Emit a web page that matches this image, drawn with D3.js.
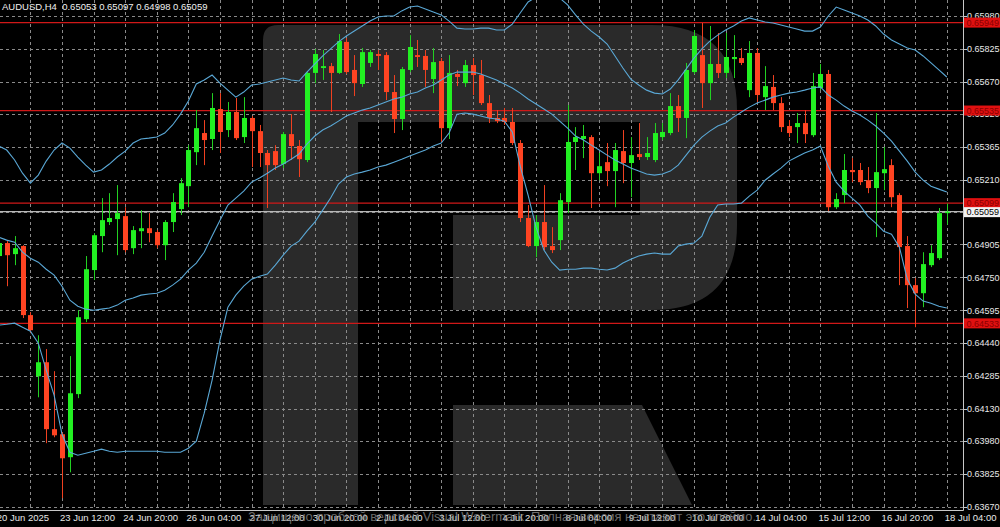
<!DOCTYPE html>
<html><head><meta charset="utf-8">
<script src="https://cdn.jsdelivr.net/npm/d3@7"></script>
<style>html,body{margin:0;padding:0;background:#000;overflow:hidden}</style>
</head><body><svg id="c" width="1000" height="527"></svg>
<script>
const chartTitle = "AUDUSD,H4  0.65053 0.65097 0.64998 0.65059";
const opens = [
0.64850,0.64911,0.64859,0.64897,0.64572,0.64284,0.64350,0.64035,0.64011,0.63903,
0.64200,0.64553,0.64784,0.64944,0.65010,0.65024,0.65038,0.64887,0.64967,0.64981,
0.64963,0.64901,0.65010,0.65071,0.65179,0.65339,0.65429,0.65401,0.65542,0.65443,
0.65528,0.65410,0.65500,0.65438,0.65335,0.65344,0.65283,0.65424,0.65368,0.65302,
0.65712,0.65735,0.65744,0.65712,0.65858,0.65726,0.65660,0.65759,0.65801,0.65796,
0.65622,0.65495,0.65726,0.65796,0.65792,0.65683,0.65768,0.65452,0.65707,0.65664,
0.65749,0.65702,0.65570,0.65500,0.65500,0.65481,0.65382,0.65029,0.64897,0.65010,
0.64897,0.64925,0.65104,0.65387,0.65401,0.65410,0.65240,0.65292,0.65250,0.65344,
0.65288,0.65330,0.65316,0.65302,0.65410,0.65429,0.65556,0.65500,0.65716,0.65796,
0.65664,0.65754,0.65712,0.65777,0.65782,0.65631,0.65806,0.65598,0.65646,0.65570,
0.65462,0.65457,0.65476,0.65419,0.65641,0.65707,0.65080,0.65137,0.65255,0.65255,
0.65207,0.65170,0.65240,0.65278,0.65137,0.64897,0.64713,0.64675,0.64807,0.64840,
0.65053];
const highs = [
0.64925,0.64920,0.64944,0.64901,0.64586,0.64477,0.64412,0.64308,0.64021,0.64379,
0.64595,0.64850,0.64958,0.65123,0.65146,0.65184,0.65080,0.64991,0.65066,0.65052,
0.64972,0.65019,0.65146,0.65217,0.65372,0.65537,0.65490,0.65617,0.65617,0.65575,
0.65594,0.65598,0.65509,0.65467,0.65349,0.65372,0.65434,0.65518,0.65396,0.65721,
0.65825,0.65820,0.65759,0.65895,0.65876,0.65796,0.65829,0.65820,0.65820,0.65810,
0.65702,0.65740,0.65890,0.65867,0.65820,0.65829,0.65782,0.65796,0.65726,0.65773,
0.65782,0.65773,0.65608,0.65537,0.65547,0.65547,0.65396,0.65090,0.65043,0.65184,
0.64986,0.65146,0.65561,0.65457,0.65467,0.65419,0.65335,0.65382,0.65382,0.65443,
0.65410,0.65476,0.65410,0.65476,0.65476,0.65617,0.65608,0.65759,0.65914,0.65947,
0.65933,0.65900,0.65900,0.65890,0.65829,0.65862,0.65829,0.65744,0.65702,0.65598,
0.65490,0.65523,0.65537,0.65712,0.65754,0.65726,0.65146,0.65330,0.65311,0.65288,
0.65269,0.65523,0.65363,0.65306,0.65146,0.64944,0.64746,0.64868,0.64901,0.65076,
0.65097];
const lows = [
0.64840,0.64708,0.64807,0.64558,0.64487,0.64185,0.63969,0.63997,0.63710,0.63832,
0.64181,0.64539,0.64737,0.64868,0.64996,0.64854,0.64868,0.64859,0.64887,0.64915,
0.64887,0.64831,0.64963,0.65043,0.65080,0.65278,0.65278,0.65349,0.65335,0.65410,
0.65396,0.65382,0.65269,0.65269,0.65076,0.65255,0.65264,0.65302,0.65222,0.65292,
0.65664,0.65679,0.65528,0.65707,0.65707,0.65603,0.65646,0.65740,0.65726,0.65584,
0.65429,0.65443,0.65716,0.65740,0.65646,0.65617,0.65387,0.65401,0.65650,0.65646,
0.65608,0.65561,0.65476,0.65476,0.65467,0.65372,0.65010,0.64892,0.64845,0.64878,
0.64864,0.64878,0.65052,0.65255,0.65311,0.65076,0.65207,0.65179,0.65080,0.65193,
0.65127,0.65302,0.65302,0.65292,0.65396,0.65419,0.65434,0.65405,0.65707,0.65547,
0.65584,0.65688,0.65688,0.65688,0.65749,0.65598,0.65575,0.65537,0.65537,0.65434,
0.65410,0.65382,0.65382,0.65410,0.65631,0.65062,0.65071,0.65099,0.65198,0.65184,
0.65146,0.64939,0.65160,0.65080,0.64713,0.64605,0.64515,0.64609,0.64798,0.64831,
0.64998];
const closes = [
0.64911,0.64854,0.64887,0.64572,0.64501,0.64350,0.64035,0.64006,0.63898,0.64204,
0.64562,0.64788,0.64948,0.65019,0.65029,0.65052,0.64878,0.64972,0.64981,0.64958,
0.64901,0.65010,0.65104,0.65193,0.65349,0.65452,0.65396,0.65547,0.65434,0.65528,
0.65405,0.65500,0.65438,0.65335,0.65278,0.65278,0.65424,0.65368,0.65306,0.65712,
0.65801,0.65744,0.65712,0.65862,0.65716,0.65664,0.65810,0.65810,0.65792,0.65622,
0.65495,0.65730,0.65834,0.65787,0.65726,0.65763,0.65452,0.65712,0.65693,0.65749,
0.65702,0.65570,0.65500,0.65485,0.65481,0.65382,0.65029,0.64897,0.65010,0.64892,
0.64878,0.65113,0.65387,0.65410,0.65415,0.65240,0.65273,0.65250,0.65349,0.65288,
0.65325,0.65316,0.65335,0.65429,0.65434,0.65556,0.65500,0.65726,0.65886,0.65664,
0.65754,0.65712,0.65787,0.65787,0.65759,0.65806,0.65608,0.65650,0.65570,0.65457,
0.65429,0.65476,0.65424,0.65650,0.65707,0.65080,0.65118,0.65255,0.65245,0.65198,
0.65170,0.65245,0.65259,0.65127,0.64892,0.64713,0.64675,0.64812,0.64864,0.65052,
0.65059];
const bbUpper = [
0.65368,0.65349,0.65302,0.65240,0.65193,0.65231,0.65297,0.65349,0.65382,0.65358,
0.65316,0.65278,0.65245,0.65255,0.65283,0.65316,0.65344,0.65382,0.65401,0.65405,
0.65410,0.65429,0.65467,0.65518,0.65580,0.65660,0.65679,0.65702,0.65664,0.65631,
0.65598,0.65622,0.65655,0.65660,0.65669,0.65679,0.65688,0.65679,0.65674,0.65716,
0.65754,0.65792,0.65825,0.65858,0.65886,0.65909,0.65933,0.65956,0.65975,0.65980,
0.65980,0.66004,0.66022,0.66027,0.66013,0.65999,0.65985,0.65956,0.65923,0.65919,
0.65919,0.65923,0.65923,0.65914,0.65914,0.65942,0.65994,0.66046,0.66069,0.66084,
0.66084,0.66065,0.66032,0.65985,0.65942,0.65909,0.65881,0.65848,0.65792,0.65735,
0.65683,0.65655,0.65631,0.65617,0.65613,0.65636,0.65679,0.65730,0.65782,0.65825,
0.65862,0.65890,0.65914,0.65933,0.65956,0.65971,0.65961,0.65952,0.65947,0.65938,
0.65928,0.65919,0.65909,0.65909,0.65928,0.65980,0.66022,0.66008,0.65994,0.65980,
0.65961,0.65933,0.65895,0.65867,0.65848,0.65829,0.65820,0.65792,0.65759,0.65726,
0.65693];
const bbMiddle = [
0.64939,0.64925,0.64915,0.64868,0.64840,0.64821,0.64788,0.64760,0.64708,0.64642,
0.64614,0.64600,0.64595,0.64600,0.64605,0.64619,0.64642,0.64652,0.64666,0.64671,
0.64675,0.64689,0.64713,0.64741,0.64784,0.64817,0.64868,0.64944,0.65019,0.65090,
0.65123,0.65156,0.65198,0.65217,0.65240,0.65264,0.65283,0.65306,0.65330,0.65377,
0.65415,0.65443,0.65462,0.65485,0.65509,0.65523,0.65537,0.65547,0.65561,0.65575,
0.65589,0.65598,0.65613,0.65622,0.65641,0.65655,0.65679,0.65702,0.65716,0.65716,
0.65716,0.65707,0.65693,0.65679,0.65660,0.65641,0.65617,0.65589,0.65566,0.65542,
0.65518,0.65485,0.65452,0.65415,0.65396,0.65372,0.65349,0.65325,0.65302,0.65283,
0.65264,0.65250,0.65236,0.65231,0.65236,0.65250,0.65278,0.65325,0.65372,0.65410,
0.65438,0.65462,0.65476,0.65504,0.65528,0.65551,0.65570,0.65584,0.65598,0.65608,
0.65617,0.65622,0.65631,0.65641,0.65646,0.65608,0.65584,0.65556,0.65533,0.65514,
0.65490,0.65462,0.65429,0.65391,0.65344,0.65297,0.65245,0.65207,0.65179,0.65165,
0.65151];
const bbLower = [
0.64525,0.64529,0.64534,0.64515,0.64496,0.64440,0.64313,0.64195,0.64011,0.63926,
0.63912,0.63922,0.63931,0.63941,0.63931,0.63926,0.63931,0.63931,0.63931,0.63931,
0.63931,0.63926,0.63926,0.63926,0.63945,0.63978,0.64110,0.64266,0.64455,0.64609,
0.64666,0.64708,0.64741,0.64755,0.64765,0.64807,0.64854,0.64897,0.64920,0.64967,
0.65010,0.65066,0.65123,0.65189,0.65222,0.65236,0.65245,0.65255,0.65269,0.65278,
0.65292,0.65306,0.65321,0.65335,0.65349,0.65368,0.65382,0.65429,0.65518,0.65523,
0.65518,0.65509,0.65500,0.65495,0.65485,0.65434,0.65273,0.65137,0.64986,0.64878,
0.64821,0.64784,0.64788,0.64788,0.64793,0.64793,0.64788,0.64784,0.64793,0.64817,
0.64835,0.64850,0.64859,0.64864,0.64859,0.64859,0.64897,0.64906,0.64911,0.64944,
0.65033,0.65090,0.65095,0.65095,0.65099,0.65132,0.65160,0.65207,0.65236,0.65264,
0.65297,0.65316,0.65335,0.65349,0.65368,0.65273,0.65198,0.65156,0.65123,0.65090,
0.65038,0.65005,0.64967,0.64953,0.64892,0.64741,0.64671,0.64638,0.64628,0.64614,
0.64605];
const priceTickLabels = ["0.65980","0.65825","0.65670","0.65520","0.65365","0.65210","0.65055","0.64905",
  "0.64750","0.64595","0.64440","0.64285","0.64130","0.63980","0.63825","0.63670"];
const timeTickLabels = ["20 Jun 2025","23 Jun 12:00","24 Jun 20:00","26 Jun 04:00","27 Jun 12:00","30 Jun 20:00",
  "2 Jul 04:00","3 Jul 12:00","4 Jul 20:00","8 Jul 04:00","9 Jul 12:00","10 Jul 20:00","14 Jul 04:00",
  "15 Jul 12:00","16 Jul 20:00","18 Jul 04:00"];
const barsPerTimeLabel = 8;
const barsPerGridLine = 4;
const levelLines = [0.65949, 0.65535, 0.65099, 0.64533];
const lastPrice = 0.65059;
const watermarkText = "Защищено пробной версией Visual Watermark. Полная версия не ставит это клеймо.";

const svg = d3.select("#c");
const W = 1000, H = 527, plotR = 963, plotB = 510;
const n = closes.length;
const x = d3.scaleLinear().domain([0, n - 1]).range([-1.2, 946.8]);
const y = d3.scaleLinear().domain([0.63670, 0.65980]).range([506.7, 16]);
const font = "'Liberation Sans', Arial, sans-serif";

svg.append("rect").attr("width", W).attr("height", H).attr("fill", "#000");

const defs = svg.append("defs");
defs.append("clipPath").attr("id", "plot").append("rect")
  .attr("x", 0).attr("y", 0).attr("width", plotR).attr("height", plotB);

// watermark logo (background)
const logo = svg.append("g").attr("fill", "#2a2a2a");
logo.append("path").attr("fill-rule", "evenodd").attr("d",
  "M263,40 Q263,25 278,25 L652,25 Q737,25 737,110 L737,225 Q737,310 652,310 L453,310 L453,215 L640,215 L640,122 L358,122 L358,505 L263,505 Z");
logo.append("path").attr("d", "M453,405 L642,405 L692,505 L453,505 Z");

const plot = svg.append("g").attr("clip-path", "url(#plot)");

// grid
const gridColor = "#8a8a8a";
plot.append("g").selectAll("line").data(priceTickLabels).join("line")
  .attr("x1", 0).attr("x2", plotR)
  .attr("y1", d => Math.round(y(+d)) + 0.5).attr("y2", d => Math.round(y(+d)) + 0.5)
  .attr("stroke", gridColor).attr("stroke-width", 1).attr("stroke-dasharray", "3,3");
const gridIdx = d3.range(barsPerGridLine, n, barsPerGridLine);
plot.append("g").selectAll("line").data(gridIdx).join("line")
  .attr("x1", d => Math.round(x(d)) + 0.5).attr("x2", d => Math.round(x(d)) + 0.5)
  .attr("y1", 0).attr("y2", plotB)
  .attr("stroke", gridColor).attr("stroke-width", 1).attr("stroke-dasharray", "3,3");

// horizontal levels
plot.append("g").selectAll("line").data(levelLines).join("line")
  .attr("x1", 0).attr("x2", plotR)
  .attr("y1", d => y(d)).attr("y2", d => y(d))
  .attr("stroke", "#d01818").attr("stroke-width", 1.3);
plot.append("line").attr("x1", 0).attr("x2", plotR)
  .attr("y1", y(lastPrice)).attr("y2", y(lastPrice))
  .attr("stroke", "#b8b8b8").attr("stroke-width", 1.3);

// candles
const bars = d3.range(n).map(i => ({i, o: opens[i], h: highs[i], l: lows[i], c: closes[i]}));
const up = "#22f022", down = "#ff4422";
const cg = plot.append("g");
cg.selectAll("line").data(bars).join("line")
  .attr("x1", d => Math.round(x(d.i)) + 0.5).attr("x2", d => Math.round(x(d.i)) + 0.5)
  .attr("y1", d => y(d.h)).attr("y2", d => y(d.l))
  .attr("stroke", d => d.c >= d.o ? "#22d022" : "#f04020").attr("stroke-width", 1);
cg.selectAll("rect").data(bars).join("rect")
  .attr("x", d => Math.round(x(d.i)) - 2)
  .attr("width", 5)
  .attr("y", d => y(Math.max(d.o, d.c)))
  .attr("height", d => Math.max(1.5, Math.abs(y(d.o) - y(d.c))))
  .attr("fill", d => d.c >= d.o ? up : down);

// Bollinger bands
const line = d3.line().x((d, i) => x(i)).y(d => y(d));
[bbUpper, bbMiddle, bbLower].forEach(arr => {
  plot.append("path").attr("d", line(arr)).attr("fill", "none")
    .attr("stroke", "#5aa8d6").attr("stroke-width", 1.1);
});

// frame
svg.append("line").attr("x1", plotR + 0.5).attr("x2", plotR + 0.5).attr("y1", 0).attr("y2", plotB + 0.5)
  .attr("stroke", "#c8c8c8");
svg.append("line").attr("x1", 0).attr("x2", plotR + 0.5).attr("y1", plotB + 0.5).attr("y2", plotB + 0.5)
  .attr("stroke", "#c8c8c8");

// price axis
const pa = svg.append("g");
pa.selectAll("line").data(priceTickLabels).join("line")
  .attr("x1", plotR).attr("x2", plotR + 4)
  .attr("y1", d => Math.round(y(+d)) + 0.5).attr("y2", d => Math.round(y(+d)) + 0.5)
  .attr("stroke", "#c8c8c8");
pa.selectAll("text").data(priceTickLabels).join("text")
  .attr("x", 967).attr("y", d => y(+d) + 3.3)
  .attr("fill", "#e8e8e8").attr("font-family", font).attr("font-size", "9px")
  .text(d => d);

// level boxes
const lb = svg.append("g");
levelLines.forEach(v => {
  lb.append("rect").attr("x", 964).attr("y", y(v) - 5).attr("width", 36).attr("height", 10).attr("fill", "#e01010");
  lb.append("text").attr("x", 966.5).attr("y", y(v) + 3.3).attr("fill", "#8a0000")
    .attr("font-family", font).attr("font-size", "9px").text(v.toFixed(5));
});
lb.append("rect").attr("x", 964).attr("y", y(lastPrice) - 4.5).attr("width", 36).attr("height", 10).attr("fill", "#f2f2f2");
lb.append("text").attr("x", 966.5).attr("y", y(lastPrice) + 3.8).attr("fill", "#000")
  .attr("font-family", font).attr("font-size", "9px").text(lastPrice.toFixed(5));

// time axis
const ta = svg.append("g");
ta.selectAll("text").data(timeTickLabels).join("text")
  .attr("x", (d, k) => x(k * barsPerTimeLabel) - 2).attr("y", 521)
  .attr("fill", "#e8e8e8").attr("font-family", font).attr("font-size", "9.5px")
  .text(d => d);

// title
svg.append("text").attr("x", 2).attr("y", 10).attr("fill", "#f0f0f0")
  .attr("font-family", font).attr("font-size", "9.5px").attr("xml:space", "preserve")
  .style("white-space", "pre").text(chartTitle);

// watermark text
svg.append("text").attr("x", 248).attr("y", 521).attr("fill", "#8c8c8c").attr("opacity", 0.75)
  .attr("font-family", font).attr("font-size", "12.5px")
  .attr("textLength", 508).attr("lengthAdjust", "spacingAndGlyphs").text(watermarkText);
</script></body></html>
